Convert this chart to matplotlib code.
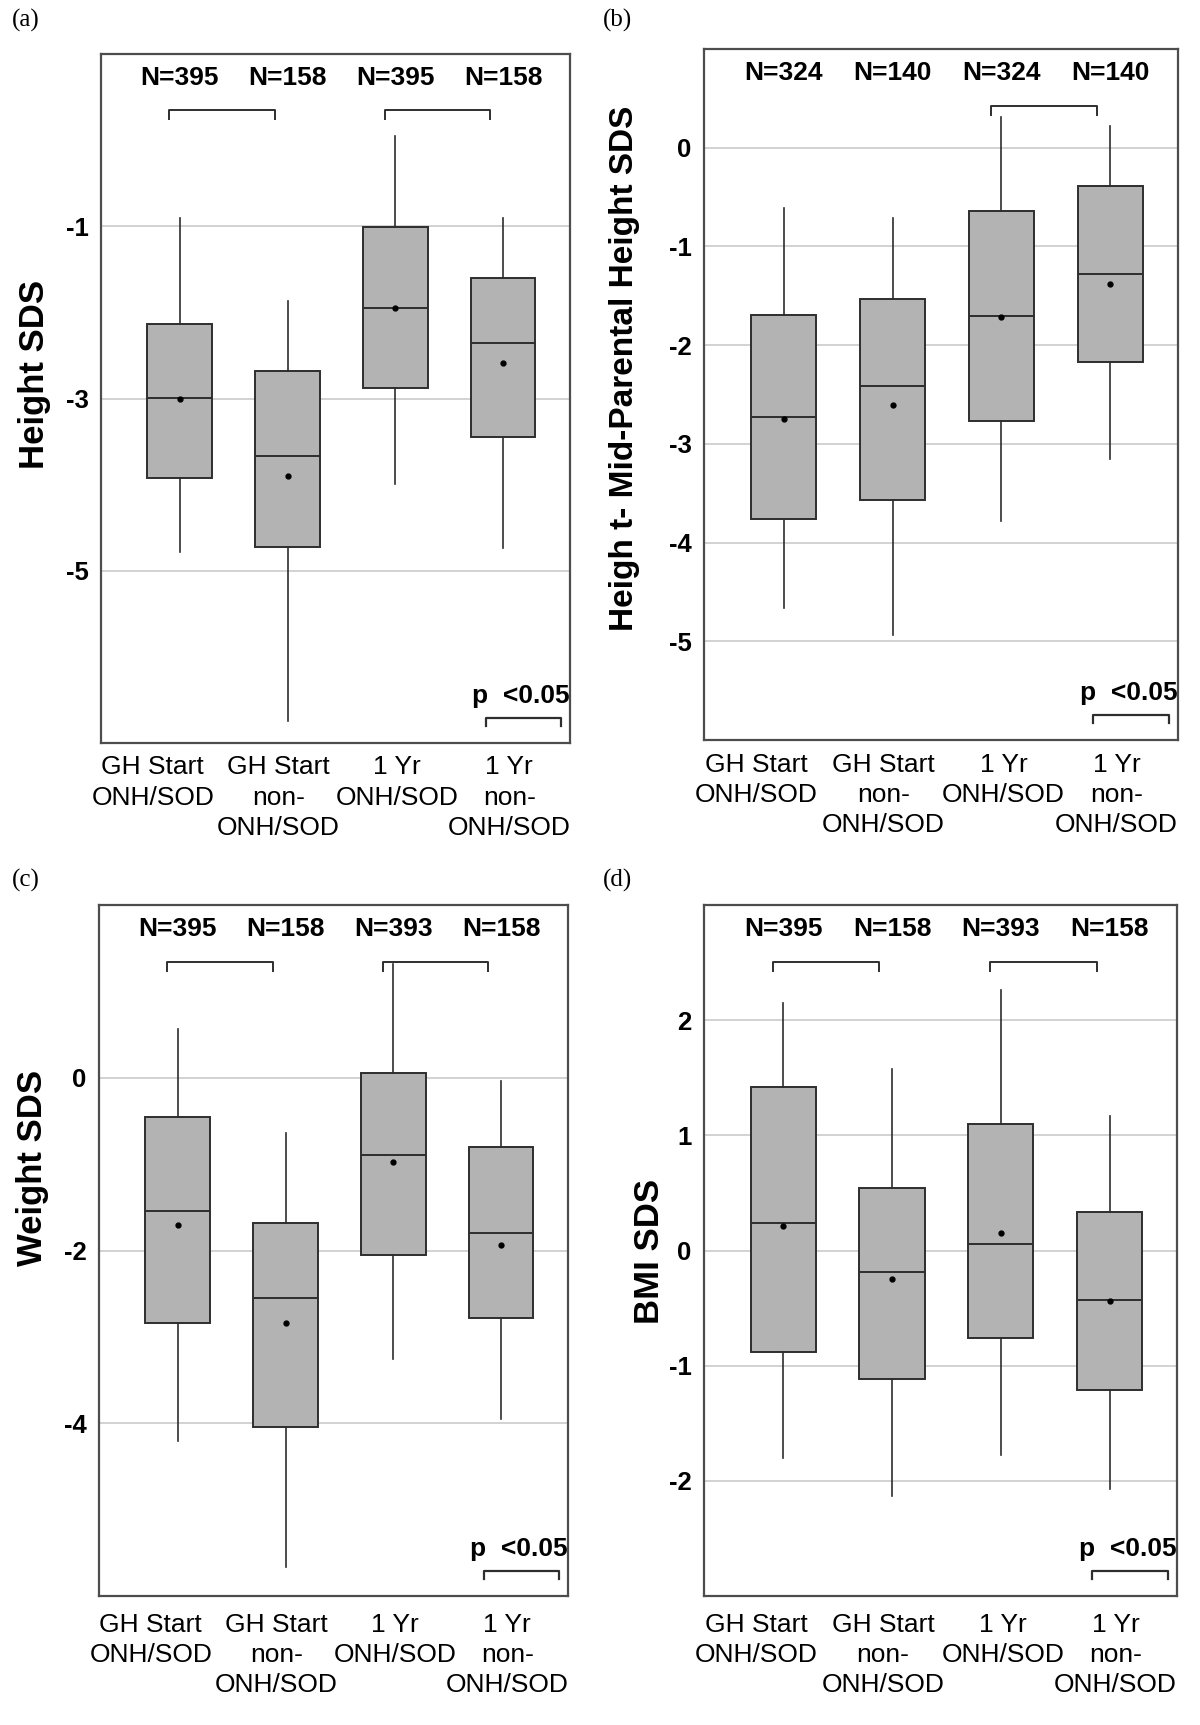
import matplotlib
matplotlib.use("Agg")
import matplotlib.pyplot as plt
from matplotlib.transforms import blended_transform_factory, ScaledTranslation

# ---------------- data ----------------
categories = ["GH Start\nONH/SOD", "GH Start\nnon-\nONH/SOD", "1 Yr\nONH/SOD", "1 Yr\nnon-\nONH/SOD"]

a_whislo = [-4.78, -6.74, -3.99, -4.74]
a_q1 = [-3.92, -4.72, -2.88, -3.45]
a_med = [-2.99, -3.67, -1.95, -2.36]
a_q3 = [-2.14, -2.68, -1.01, -1.60]
a_whishi = [-0.90, -1.87, 0.05, -0.90]
a_mean = [-3.00, -3.90, -1.95, -2.59]
a_n = [395, 158, 395, 158]

b_whislo = [-4.66, -4.94, -3.78, -3.15]
b_q1 = [-3.76, -3.57, -2.77, -2.17]
b_med = [-2.73, -2.41, -1.70, -1.28]
b_q3 = [-1.69, -1.53, -0.64, -0.39]
b_whishi = [-0.61, -0.71, 0.31, 0.22]
b_mean = [-2.75, -2.61, -1.71, -1.38]
b_n = [324, 140, 324, 140]

c_whislo = [-4.20, -5.67, -3.26, -3.95]
c_q1 = [-2.84, -4.04, -2.05, -2.78]
c_med = [-1.54, -2.55, -0.89, -1.80]
c_q3 = [-0.45, -1.68, 0.06, -0.80]
c_whishi = [0.56, -0.64, 1.32, -0.04]
c_mean = [-1.71, -2.84, -0.98, -1.94]
c_n = [395, 158, 393, 158]

d_whislo = [-1.80, -2.13, -1.78, -2.07]
d_q1 = [-0.88, -1.12, -0.76, -1.21]
d_med = [0.24, -0.19, 0.06, -0.43]
d_q3 = [1.42, 0.54, 1.10, 0.33]
d_whishi = [2.15, 1.58, 2.26, 1.17]
d_mean = [0.21, -0.25, 0.15, -0.44]
d_n = [395, 158, 393, 158]

a_ticks = [-5, -3, -1]
b_ticks = [-5, -4, -3, -2, -1, 0]
c_ticks = [-4, -2, 0]
d_ticks = [-2, -1, 0, 1, 2]

# brackets: list of (first group index, second group index)
a_brackets = [(0, 1), (2, 3)]
b_brackets = [(2, 3)]
c_brackets = [(0, 1), (2, 3)]
d_brackets = [(0, 1), (2, 3)]

panels = [
    dict(letter="(a)", ylabel="Height SDS", whislo=a_whislo, q1=a_q1, med=a_med, q3=a_q3,
         whishi=a_whishi, mean=a_mean, n=a_n, ticks=a_ticks, ylim=(-7, 1), brackets=a_brackets,
         rect=(101, 54, 570, 743), letter_xy=(12, 20), ylab_xy=(35, 374), ylab_fs=25, xpad=9),
    dict(letter="(b)", ylabel="Heigh t- Mid-Parental Height SDS", whislo=b_whislo, q1=b_q1, med=b_med,
         q3=b_q3, whishi=b_whishi, mean=b_mean, n=b_n, ticks=b_ticks, ylim=(-6, 1), brackets=b_brackets,
         rect=(704, 49, 1178, 740), letter_xy=(603, 20), ylab_xy=(625, 368), ylab_fs=24, xpad=9),
    dict(letter="(c)", ylabel="Weight SDS", whislo=c_whislo, q1=c_q1, med=c_med, q3=c_q3,
         whishi=c_whishi, mean=c_mean, n=c_n, ticks=c_ticks, ylim=(-6, 2), brackets=c_brackets,
         rect=(99, 905, 568, 1596), letter_xy=(12, 880), ylab_xy=(33, 1168), ylab_fs=25, xpad=12),
    dict(letter="(d)", ylabel="BMI SDS", whislo=d_whislo, q1=d_q1, med=d_med, q3=d_q3,
         whishi=d_whishi, mean=d_mean, n=d_n, ticks=d_ticks, ylim=(-3, 3), brackets=d_brackets,
         rect=(704, 905, 1177, 1596), letter_xy=(603, 880), ylab_xy=(649, 1251), ylab_fs=25, xpad=12),
]

W, H = 1200, 1725
fig = plt.figure(figsize=(W / 100, H / 100), dpi=100)
SANS = ["Liberation Sans", "DejaVu Sans"]
SERIF = ["Liberation Serif", "DejaVu Serif"]
label_offsets_px = [-27, -9, 2, 6]
positions = [1, 2, 3, 4]

for p in panels:
    l, t, r, b = p["rect"]
    ax = fig.add_axes([l / W, 1 - b / H, (r - l) / W, (b - t) / H])
    stats = []
    for i in range(4):
        stats.append(dict(med=p["med"][i], q1=p["q1"][i], q3=p["q3"][i],
                          whislo=p["whislo"][i], whishi=p["whishi"][i],
                          mean=p["mean"][i], fliers=[]))
    ax.bxp(stats, positions=positions, widths=0.6, patch_artist=True, showmeans=True,
           showcaps=False, showfliers=False,
           boxprops=dict(facecolor="#b3b3b3", edgecolor="#2e2e2e", linewidth=1.4),
           medianprops=dict(color="#2e2e2e", linewidth=1.4),
           whiskerprops=dict(color="#2e2e2e", linewidth=1.2),
           meanprops=dict(marker="o", markerfacecolor="black", markeredgecolor="black",
                          markersize=3.5),
           zorder=3)
    ax.set_xlim(0.27, 4.62)
    ax.set_ylim(*p["ylim"])
    ax.set_yticks(p["ticks"])
    ax.set_yticklabels([str(v) for v in p["ticks"]], fontsize=18.5, fontweight="bold", family=SANS)
    ax.yaxis.grid(True, color="#cfcfcf", linewidth=1.3, zorder=0)
    ax.set_axisbelow(True)
    ax.tick_params(axis="y", length=0, pad=9)
    ax.set_xticks(positions)
    ax.set_xticklabels(categories, fontsize=19, family=SANS, linespacing=1.33,
                       multialignment="center")
    ax.tick_params(axis="x", length=0, pad=p["xpad"])
    for lab, off in zip(ax.get_xticklabels(), label_offsets_px):
        lab.set_transform(lab.get_transform() + ScaledTranslation(off / 100, 0, fig.dpi_scale_trans))
    for s in ax.spines.values():
        s.set_color("#4d4d4d")
        s.set_linewidth(1.6)

    tr = blended_transform_factory(ax.transData, ax.transAxes)
    for x, n in zip(positions, p["n"]):
        ax.text(x, 0.965, f"N={n}", transform=tr, ha="center", va="center",
                fontsize=19, fontweight="bold", family=SANS)
    for i, j in p["brackets"]:
        x0, x1 = positions[i] - 0.1, positions[j] - 0.12
        ax.plot([x0, x0, x1, x1], [0.905, 0.918, 0.918, 0.905], transform=tr,
                color="#2e2e2e", linewidth=1.4, clip_on=False)
    # legend-like p bracket
    ax.plot([0.82, 0.82, 0.98, 0.98], [0.024, 0.036, 0.036, 0.024], transform=ax.transAxes,
            color="#2e2e2e", linewidth=1.6)
    ax.text(1.0, 0.068, "p  <0.05", transform=ax.transAxes, ha="right", va="center",
            fontsize=19, fontweight="bold", family=SANS)

    fig.text(p["letter_xy"][0] / W, 1 - p["letter_xy"][1] / H, p["letter"], ha="left", va="center",
             fontsize=18, family=SERIF)
    fig.text(p["ylab_xy"][0] / W, 1 - p["ylab_xy"][1] / H, p["ylabel"], rotation=90,
             ha="center", va="center", fontsize=p["ylab_fs"], fontweight="bold", family=SANS)

fig.savefig("out.png", dpi=100, facecolor="white")
